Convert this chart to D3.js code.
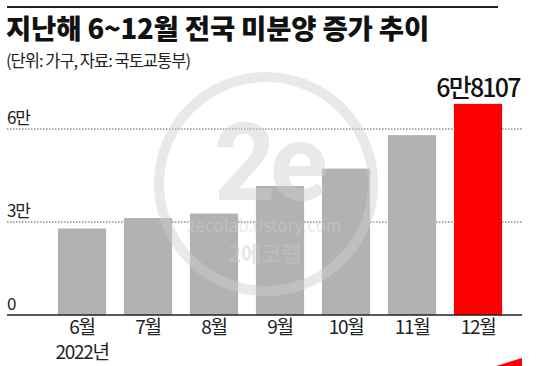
<!DOCTYPE html>
<html>
<head>
<meta charset="utf-8">
<script src="https://cdn.jsdelivr.net/npm/d3@7"></script>
<style>
  body { margin: 0; background: #fff; }
  svg { display: block; font-family: "Noto Sans CJK KR", "Noto Sans", sans-serif; }
</style>
</head>
<body>
<svg id="chart"></svg>
<script>
const months = ['6월', '7월', '8월', '9월', '10월', '11월', '12월'];
const units = [27910, 31284, 32722, 41604, 47217, 58027, 68107];
const yTicks = [0, 30000, 60000];
const yTickLabels = ['0', '3만', '6만'];

const width = 549;
const height = 366;

const svg = d3.select('#chart')
    .attr('width', width)
    .attr('height', height);

// top rule
svg.append('line')
    .attr('x1', 7).attr('x2', 498)
    .attr('y1', 7).attr('y2', 7)
    .attr('stroke', '#222')
    .attr('stroke-width', 2);

svg.append('text')
    .attr('x', 6).attr('y', 39)
    .attr('font-size', 27.5)
    .attr('font-weight', 900)
    .attr('letter-spacing', -0.2)
    .attr('fill', '#111')
    .text('지난해 6~12월 전국 미분양 증가 추이');

svg.append('text')
    .attr('x', 6).attr('y', 67)
    .attr('font-size', 16.5)
    .attr('letter-spacing', -1)
    .attr('fill', '#222')
    .text('(단위: 가구, 자료: 국토교통부)');

const x = d3.scaleBand()
    .domain(months)
    .range([49, 511])
    .paddingInner(0.27)
    .paddingOuter(0.135);

const y = d3.scaleLinear()
    .domain([0, 30000])
    .range([315, 222]);

// dotted grid lines
svg.append('g')
    .selectAll('line')
    .data(yTicks.slice(1))
    .enter().append('line')
    .attr('x1', 7).attr('x2', 523)
    .attr('y1', d => y(d)).attr('y2', d => y(d))
    .attr('stroke', '#555')
    .attr('stroke-width', 1)
    .attr('stroke-dasharray', '1.5,1.5');

svg.append('g')
    .selectAll('text')
    .data(yTicks)
    .enter().append('text')
    .attr('x', 7)
    .attr('y', d => y(d) - 5)
    .attr('font-size', 17)
    .attr('letter-spacing', -1.2)
    .attr('fill', '#222')
    .text((d, i) => yTickLabels[i]);

svg.append('g')
    .selectAll('rect')
    .data(units)
    .enter().append('rect')
    .attr('x', (d, i) => x(months[i]))
    .attr('y', d => y(d))
    .attr('width', x.bandwidth())
    .attr('height', d => y(0) - y(d))
    .attr('fill', (d, i) => i === units.length - 1 ? '#ff0000' : '#b2b2b2');

// watermark
const wm = svg.append('g').attr('opacity', 0.45);
wm.append('circle')
    .attr('cx', 266).attr('cy', 184).attr('r', 107)
    .attr('fill', 'none')
    .attr('stroke', '#d0d0d0')
    .attr('stroke-width', 10);
wm.append('text')
    .attr('x', 268).attr('y', 200)
    .attr('text-anchor', 'middle')
    .attr('font-family', 'Roboto, sans-serif')
    .attr('font-size', 108)
    .attr('font-weight', 700)
    .attr('letter-spacing', -6)
    .attr('fill', '#d0d0d0')
    .text('2e');
wm.append('text')
    .attr('x', 264).attr('y', 232)
    .attr('text-anchor', 'middle')
    .attr('font-size', 17)
    .attr('fill', '#d0d0d0')
    .text('2ecolab.tistory.com');
wm.append('text')
    .attr('x', 265).attr('y', 262)
    .attr('text-anchor', 'middle')
    .attr('font-size', 22)
    .attr('font-weight', 700)
    .attr('fill', '#c8c8c8')
    .text('2에코랩');

// baseline
svg.append('line')
    .attr('x1', 7).attr('x2', 522)
    .attr('y1', y(0)).attr('y2', y(0))
    .attr('stroke', '#222')
    .attr('stroke-width', 1.5);

svg.append('g')
    .selectAll('text')
    .data(months)
    .enter().append('text')
    .attr('x', d => x(d) + x.bandwidth() / 2)
    .attr('y', 334)
    .attr('text-anchor', 'middle')
    .attr('font-size', 19)
    .attr('letter-spacing', -1.3)
    .attr('fill', '#222')
    .text(d => d);

svg.append('text')
    .attr('x', x(months[0]) + x.bandwidth() / 2)
    .attr('y', 359)
    .attr('text-anchor', 'middle')
    .attr('font-size', 19)
    .attr('letter-spacing', -1.3)
    .attr('fill', '#222')
    .text('2022년');

const last = units.length - 1;
svg.append('text')
    .attr('x', x(months[last]) + x.bandwidth() / 2)
    .attr('y', y(units[last]) - 7)
    .attr('text-anchor', 'middle')
    .attr('font-size', 25)
    .attr('font-weight', 500)
    .attr('letter-spacing', -1.8)
    .attr('fill', '#111')
    .text('6만8107');

// cropped red swoosh at the corner
svg.append('path')
    .attr('d', 'M496,366 L522,358 L522,366 Z')
    .attr('fill', '#ff0000');
</script>
</body>
</html>
